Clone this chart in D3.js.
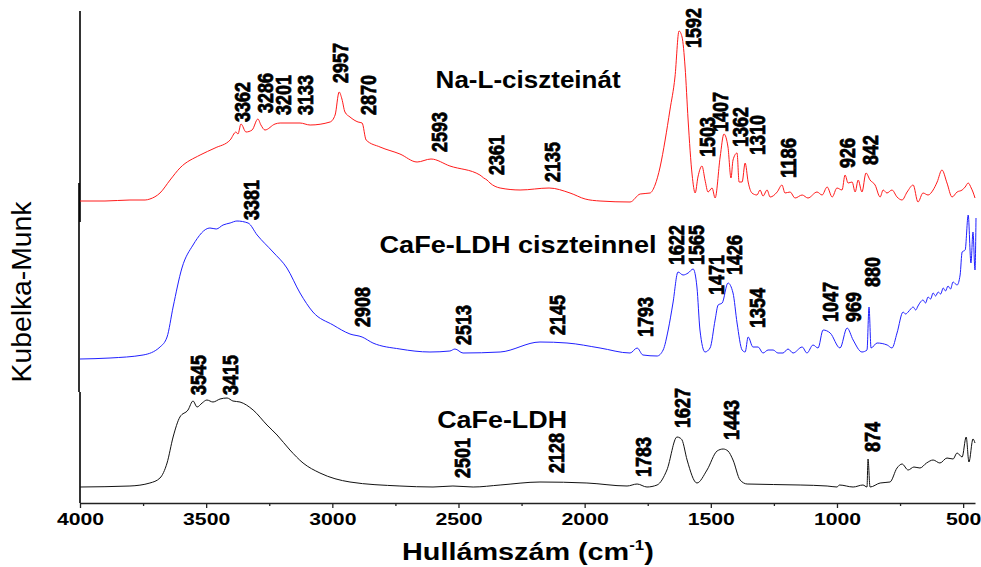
<!DOCTYPE html>
<html>
<head>
<meta charset="utf-8">
<script src="https://cdn.jsdelivr.net/npm/d3@7"></script>
<style>
  body { margin: 0; background: #fff; }
  svg { display: block; }
  text { font-family: "Liberation Sans", Arial, sans-serif; }
</style>
</head>
<body>
<svg width="981" height="567"></svg>
<script>
// wavenumber (cm-1) / Kubelka-Munk (offset, arbitrary units)

// Na-L-ciszteinát (red)
const redWn = [4000,3901,3802,3742,3723,3683,3643,3604,3524,3465,3405,3382,3374,3362,3342,3318,3295,3283,3267,3227,3207,3128,3088,3009,2989,2973,2962,2950,2930,2898,2882,2866,2811,2732,2664,2609,2534,2415,2400,2387,2375,2335,2256,2141,2058,1998,
  1939,1820,1780,1741,1721,1701,1681,1662,1642,1626,1614,1602,1590,1574,1562,1551,1535,1523,1511,1495,1483,1463,1448,1432,1420,1412,1396,1388,1376,1364,1352,1337,1317,1305,1293,1277,1265,1237,1218,1206,1186,1166,1138,1115,1079,1059,1039,1019,1000,980,968,956,940,928,916,901,885,869,849,829,817,802,782,762,742,722,698,679,659,639,619,603,584,564,544,524,504,492,480,468,461,453];
const redKM = [302,302,303,303,304,310,323,335,348,355,363,371,369,379,371,373,384,378,373,379,380,380,378,381,388,411,404,391,386,381,380,363,356,349,341,344,337,328,325,323,320,315,313,315,310,304,
  302,301,309,310,318,336,363,393,426,472,466,436,383,328,310,326,337,323,311,315,305,346,369,356,325,343,350,321,321,340,321,310,308,313,307,313,306,311,318,310,311,305,308,305,311,308,316,306,315,313,328,320,321,311,323,311,330,323,318,306,313,310,313,306,303,311,318,301,310,308,313,321,333,320,306,311,313,316,320,315,311,305];

// CaFe-LDH ciszteinnel (blue)
const blueWn = [4000,3881,3750,3683,3655,3631,3596,3552,3485,3460,3433,3405,3378,3334,3298,3235,3180,3128,3077,2997,2930,2882,2839,2732,2613,2534,2514,2482,2335,2177,2070,1939,1820,1792,1769,1713,1689,1669,1650,1630,1610,1590,1570,1555,1543,1523,1503,1483,1471,1455,1432,1412,1396,1376,1364,1352,1333,1313,1293,1273,1253,1234,1214,1194,1174,1138,1119,1095,1075,1055,1027,988,960,936,901,881,873,865,841,801,782,762,738,728,718,708,698,688,679,669,659,649,639,629,619,609,599,589,579,570,560,550,540,530,524,512,504,492,480,469,461,453,449];
const blueKM = [144,145,148,156,166,196,235,258,275,274,278,280,282,280,268,251,235,210,191,178,169,166,160,154,151,152,154,150,151,161,160,155,150,155,148,147,153,173,200,231,228,230,234,216,173,151,155,183,198,200,220,210,180,153,151,166,156,156,150,153,153,150,150,154,150,156,150,158,155,173,170,155,175,163,151,153,196,155,160,158,155,170,191,189,191,194,196,193,197,201,203,200,206,204,210,207,211,209,215,212,217,214,221,219,218,228,251,253,288,240,271,233,285];

// CaFe-LDH (black)
const blackWn = [4000,3802,3723,3683,3655,3631,3604,3572,3552,3536,3516,3497,3473,3445,3417,3394,3366,3314,3259,3219,3168,3116,3049,2930,2732,2601,2522,2442,2335,2177,1991,1832,1792,1753,1713,1674,1634,1622,1614,1594,1555,1515,1475,1451,1432,1412,1384,1356,1146,1039,1000,990,936,897,881,877,869,829,790,762,742,718,695,671,645,619,592,564,540,524,504,488,477,461,453];
const blackKM = [16,17,20,25,40,66,86,93,102,96,100,103,101,104,105,102,101,93,78,68,53,40,30,21,17,16,17,16,18,21,20,17,19,16,18,33,66,65,63,43,20,33,52,54,52,43,23,19,18,17,16,18,16,18,16,44,16,20,21,35,39,33,36,35,40,43,40,45,44,50,46,66,41,64,60];

// peak annotations: text, drawn position (cm-1), label foot (KM)
const redPeaks = ["3362","3286","3201","3133","2957","2870","2593","2361","2135","1592","1503","1407","1362","1310","1186","926","842"];
const redPeakWn = [3358,3267,3195,3108,2966,2855,2577,2351,2129,1570,1515,1463,1384,1317,1194,960,869];
const redPeakKM = [381,390,388,388,420,388,351,328,321,455,346,371,356,348,325,335,338];

const bluePeaks = ["3381","2908","2513","2145","1793","1622","1565","1471","1426","1354","1047","969","880"];
const bluePeakWn = [3322,2882,2482,2109,1761,1638,1558,1479,1408,1317,1027,936,861];
const bluePeakKM = [283,176,158,168,166,238,238,208,228,175,181,181,216];

const blackPeaks = ["3545","3415","2501","2128","1783","1627","1443","874"];
const blackPeakWn = [3532,3402,2486,2113,1769,1614,1420,861];
const blackPeakKM = [108,108,25,30,26,75,63,51];

const seriesNames = ["Na-L-ciszteinát","CaFe-LDH ciszteinnel","CaFe-LDH"];
const nameWn = [2224,2264,2327];
const nameKM = [415,250,75];

const majorTicks = [4000,3500,3000,2500,2000,1500,1000,500];
const minorTicks = [3750,3250,2750,2250,1750,1250,750];

const svg = d3.select("svg");
const x = d3.scaleLinear().domain([4000, 453]).range([80, 975]);
const y = d3.scaleLinear().domain([0, 493]).range([503, 10]);

const line = d3.line()
  .curve(d3.curveMonotoneX)
  .x(d => x(d[0])).y(d => y(d[1]));

// left axis drawn as three stacked panel segments
[[0, 111, 80], [111, 320, 79], [281, 492, 80]].forEach(s => {
  svg.append("line")
    .attr("x1", s[2]).attr("x2", s[2])
    .attr("y1", y(s[0])).attr("y2", y(s[1]))
    .attr("stroke", "#000").attr("stroke-width", 1.6);
});

// x axis
const gx = svg.append("g").attr("transform", `translate(0,${y(0)})`);
gx.call(d3.axisBottom(x).tickValues(majorTicks).tickFormat(d3.format("d")).tickSize(5).tickSizeOuter(0));
gx.append("g").call(d3.axisBottom(x).tickValues(minorTicks).tickSize(3).tickFormat(""))
  .select(".domain").remove();
gx.selectAll("path.domain").attr("stroke", "#222").attr("stroke-width", 1.6);
gx.selectAll(".tick line").attr("stroke", "#222").attr("stroke-width", 1.3);
gx.selectAll(".tick text")
  .attr("y", 22).attr("dy", 0)
  .attr("fill", "#000")
  .style("font-size", "16px").style("font-weight", "bold")
  .attr("textLength", d => String(d).length * 11.8)
  .attr("lengthAdjust", "spacingAndGlyphs");

// spectra (sorted by increasing x on screen for the monotone curve)
const spectra = [
  {wn: blackWn, km: blackKM, color: "#111"},
  {wn: blueWn, km: blueKM, color: "#2020ff"},
  {wn: redWn, km: redKM, color: "#ff1a1a"}
];
spectra.forEach(s => {
  const pts = s.wn.map((w, i) => [w, s.km[i]]);
  svg.append("path")
    .datum(d3.sort(pts, (a, b) => b[0] - a[0]))
    .attr("fill", "none")
    .attr("stroke", s.color)
    .attr("stroke-width", 1)
    .attr("stroke-linejoin", "round")
    .attr("d", line);
});

// peak labels (rotated, reading upward)
function peakLabels(texts, wns, kms) {
  svg.append("g").selectAll("text")
    .data(texts)
    .join("text")
    .attr("transform", (d, i) => `translate(${x(wns[i])},${y(kms[i])}) scale(1.2,1) rotate(-90)`)
    .attr("dy", "0.35em")
    .attr("text-anchor", "start")
    .attr("stroke", "#000")
    .attr("stroke-width", 0.6)
    .style("font-size", "18px")
    .style("font-weight", "bold")
    .attr("textLength", d => d.length * 10)
    .attr("lengthAdjust", "spacingAndGlyphs")
    .text(d => d);
}
peakLabels(redPeaks, redPeakWn, redPeakKM);
peakLabels(bluePeaks, bluePeakWn, bluePeakKM);
peakLabels(blackPeaks, blackPeakWn, blackPeakKM);

// sample names
const nameWidths = [185, 277, 130];
svg.append("g").selectAll("text")
  .data(seriesNames)
  .join("text")
  .attr("x", (d, i) => x(nameWn[i]))
  .attr("y", (d, i) => y(nameKM[i]))
  .attr("text-anchor", "middle")
  .style("font-size", "24px")
  .style("font-weight", "bold")
  .attr("textLength", (d, i) => nameWidths[i])
  .attr("lengthAdjust", "spacingAndGlyphs")
  .text(d => d);

// axis titles
svg.append("text")
  .attr("transform", "translate(31,292) rotate(-90)")
  .attr("text-anchor", "middle")
  .style("font-size", "27px")
  .attr("textLength", 181)
  .attr("lengthAdjust", "spacingAndGlyphs")
  .text("Kubelka-Munk");

const xt = svg.append("text")
  .attr("transform", "translate(402,560) scale(1.2,1)")
  .style("font-size", "24px")
  .style("font-weight", "bold");
xt.append("tspan").text("Hullámszám (cm");
xt.append("tspan").attr("dy", -10).style("font-size", "14px").text("-1");
xt.append("tspan").attr("dy", 10).text(")");
</script>
</body>
</html>
